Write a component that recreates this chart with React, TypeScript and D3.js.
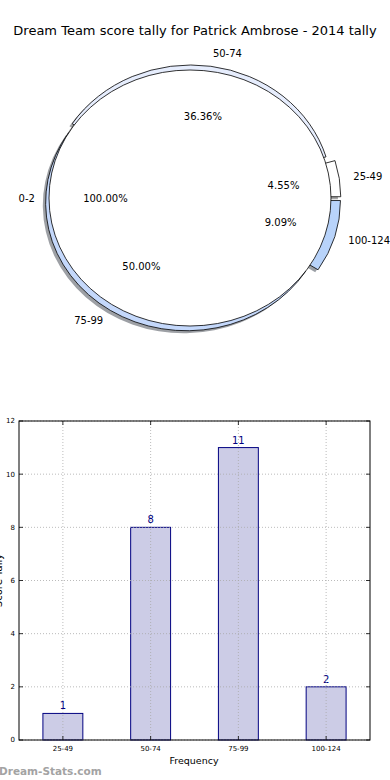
import React from 'react';
import * as d3 from 'd3';

// pie data (matplotlib-style pie, counter-clockwise from east)
const pieLabels = ['25-49', '50-74', '75-99', '100-124'];
const pieValues = [1, 8, 11, 2];
const pieColors = ['#ffffff', '#e6edfd', '#c4d8fb', '#b8d3fa'];
const pieExplode = [0.07, 0.04, 0.038, 0.07];
const fullLabel = '0-2';
const fullPct = 100;

// bar data
const barCats = ['25-49', '50-74', '75-99', '100-124'];
const barValues = [1, 8, 11, 2];
const yTicks = [0, 2, 4, 6, 8, 10, 12];

const FONT = 'DejaVu Sans, Verdana, sans-serif';

function shade(c: string) {
  const rgb = d3.rgb(c);
  return d3.rgb(rgb.r * 0.3, rgb.g * 0.3, rgb.b * 0.3).toString();
}

export default function App() {
  const W = 390;
  const H = 780;

  // ---- pie geometry
  const cx = 190, cy = 198, rx = 141, ry = 128;
  const total = d3.sum(pieValues);
  const pie = d3.pie<number>().sort(null)
    .startAngle(Math.PI / 2)
    .endAngle(Math.PI / 2 - 2 * Math.PI);
  const arcs = pie(pieValues);
  const arc = d3.arc<any>().innerRadius(0).outerRadius(1);
  const fullArc = arc({ startAngle: 0, endAngle: 2 * Math.PI }) as string;

  const slices = arcs.map((a, i) => {
    const mid = (a.startAngle + a.endAngle) / 2;
    const ux = Math.sin(mid), uy = -Math.cos(mid);
    const e = pieExplode[i];
    return {
      d: arc(a) as string,
      ox: ux * e, oy: uy * e, ux, uy,
      color: pieColors[i],
      label: pieLabels[i],
      pct: (pieValues[i] / total * 100).toFixed(2) + '%',
    };
  });
  const shadowDx = -0.02 * rx, shadowDy = 0.02 * ry;

  // ---- bar geometry
  const left = 19, right = 370, top = 421, bottom = 740;
  const x = d3.scalePoint<string>().domain(barCats).range([left, right]).padding(0.5);
  const y = d3.scaleLinear().domain([0, 12]).range([bottom, top]);
  const bw = x.step() * 0.455;

  return (
    <div style={{ position: 'absolute', left: 0, top: 0 }}>
      <svg width={W} height={H} style={{ display: 'block', background: '#fff' }} fontFamily={FONT}>
        <text x={195} y={35} textAnchor="middle" fontSize={13} fill="#000">
          Dream Team score tally for Patrick Ambrose - 2014 tally
        </text>

        {/* shadows */}
        {slices.map((s, i) => (
          <path key={'sh' + i} d={s.d}
            transform={`translate(${cx + s.ox * rx + shadowDx},${cy + s.oy * ry + shadowDy}) scale(${rx},${ry})`}
            fill={shade(s.color)} fillOpacity={0.5} stroke="none" />
        ))}
        <path d={fullArc}
          transform={`translate(${cx + shadowDx},${cy + shadowDy}) scale(${rx},${ry})`}
          fill={shade('#ffffff')} fillOpacity={0.5} stroke="none" />

        {/* wedges */}
        {slices.map((s, i) => (
          <path key={'w' + i} d={s.d}
            transform={`translate(${cx + s.ox * rx},${cy + s.oy * ry}) scale(${rx},${ry})`}
            fill={s.color} stroke="#000" strokeWidth={0.8} vectorEffect="non-scaling-stroke" />
        ))}
        <path d={fullArc}
          transform={`translate(${cx},${cy}) scale(${rx},${ry})`}
          fill="#ffffff" stroke="#000" strokeWidth={0.8} vectorEffect="non-scaling-stroke" />

        {/* pie labels */}
        {slices.map((s, i) => {
          const lx = cx + (s.ox + 1.1 * s.ux) * rx;
          const ly = cy + (s.oy + 1.1 * s.uy) * ry;
          const px = cx + (s.ox + 0.6 * s.ux) * rx;
          const py = cy + (s.oy + 0.6 * s.uy) * ry;
          return (
            <g key={'l' + i} fontSize={10} fill="#000">
              <text x={lx} y={ly} dy="0.35em" textAnchor={s.ux > 0 ? 'start' : 'end'}>{s.label}</text>
              <text x={px} y={py} dy="0.35em" textAnchor="middle">{s.pct}</text>
            </g>
          );
        })}
        <text x={cx - 1.1 * rx} y={cy} dy="0.35em" textAnchor="end" fontSize={10}>{fullLabel}</text>
        <text x={cx - 0.6 * rx} y={cy} dy="0.35em" textAnchor="middle" fontSize={10}>
          {fullPct.toFixed(2) + '%'}
        </text>

        {/* bar chart */}
        {barCats.map((c, i) => (
          <g key={'b' + c}>
            <rect x={(x(c) as number) - bw / 2} y={y(barValues[i])} width={bw}
              height={bottom - y(barValues[i])} fill="#ccccE6" stroke="#000080" strokeWidth={1} />
            <text x={x(c) as number} y={y(barValues[i]) - 4} textAnchor="middle" fontSize={10} fill="#000080">
              {barValues[i]}
            </text>
          </g>
        ))}

        {/* grid */}
        <g stroke="#aaaaaa" strokeWidth={0.8} strokeDasharray="1,2">
          {yTicks.map(t => (
            <line key={'gy' + t} x1={left} x2={right} y1={y(t)} y2={y(t)} />
          ))}
          {barCats.map(c => (
            <line key={'gx' + c} x1={x(c)} x2={x(c)} y1={top} y2={bottom} />
          ))}
        </g>

        {/* frame and ticks */}
        <rect x={left} y={top} width={right - left} height={bottom - top} fill="none" stroke="#000" strokeWidth={1} />
        <g stroke="#000" strokeWidth={0.8}>
          {yTicks.map(t => (
            <g key={'ty' + t}>
              <line x1={left} x2={left + 4} y1={y(t)} y2={y(t)} />
              <line x1={right} x2={right - 4} y1={y(t)} y2={y(t)} />
            </g>
          ))}
          {barCats.map(c => (
            <g key={'tx' + c}>
              <line x1={x(c)} x2={x(c)} y1={bottom} y2={bottom - 4} />
              <line x1={x(c)} x2={x(c)} y1={top} y2={top + 4} />
            </g>
          ))}
        </g>
        <g fontSize={7} fill="#000">
          {yTicks.map(t => (
            <text key={'yl' + t} x={left - 4} y={y(t)} dy="0.35em" textAnchor="end">{t}</text>
          ))}
          {barCats.map(c => (
            <text key={'xl' + c} x={x(c) as number} y={bottom + 11} textAnchor="middle">{c}</text>
          ))}
        </g>
        <text x={194} y={764} textAnchor="middle" fontSize={9.5}>Frequency</text>
        {/* y label sits mostly off the left edge, as in the source image */}
        <text transform={`translate(1.5,${(top + bottom) / 2}) rotate(-90)`} textAnchor="middle" fontSize={10}>
          Score Tally
        </text>

        <text x={-1} y={775} fontSize={10.5} fontWeight="bold" fill="#a3a3a3">Dream-Stats.com</text>
      </svg>
    </div>
  );
}
